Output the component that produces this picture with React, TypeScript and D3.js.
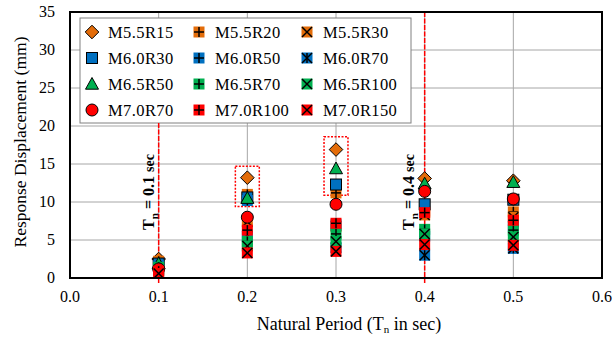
import React from "react";
import * as d3 from "d3";

const periods = [0.1, 0.2, 0.3, 0.4, 0.5];
const seriesNames = [
  "M5.5R15", "M5.5R20", "M5.5R30",
  "M6.0R30", "M6.0R50", "M6.0R70",
  "M6.5R50", "M6.5R70", "M6.5R100",
  "M7.0R70", "M7.0R100", "M7.0R150",
];
const m55r15 = [2.5, 13.2, 16.9, 13.1, 12.8];
const m55r20 = [2.2, 11.0, 11.2, 8.8, 8.7];
const m55r30 = [1.8, 7.4, 6.8, 8.3, 8.0];
const m60r30 = [1.9, 10.6, 12.3, 9.7, 10.3];
const m60r50 = [1.6, 10.2, 7.0, 5.5, 6.8];
const m60r70 = [1.2, 5.5, 4.0, 3.0, 3.9];
const m65r50 = [1.9, 10.5, 14.4, 12.4, 12.6];
const m65r70 = [1.4, 4.8, 5.8, 6.4, 6.3];
const m65r100 = [1.0, 4.2, 4.8, 5.8, 5.4];
const m70r70 = [1.2, 8.0, 9.7, 11.4, 10.4];
const m70r100 = [0.9, 6.3, 7.2, 8.6, 7.6];
const m70r150 = [0.6, 3.3, 3.5, 4.4, 4.3];
const seriesValues = [m55r15, m55r20, m55r30, m60r30, m60r50, m60r70, m65r50, m65r70, m65r100, m70r70, m70r100, m70r150];

const xTicks = [0.0, 0.1, 0.2, 0.3, 0.4, 0.5, 0.6];
const yTicks = [0, 5, 10, 15, 20, 25, 30, 35];
const refLines = [0.1, 0.4];
const boxes = [
  { x: 0.2, y0: 9.4, y1: 14.7 },
  { x: 0.3, y0: 10.9, y1: 18.6 },
];

const ORANGE = "#E36C09";
const BLUE = "#0070C0";
const GREEN = "#00B050";
const RED = "#FF0000";
const colors = [ORANGE, ORANGE, ORANGE, BLUE, BLUE, BLUE, GREEN, GREEN, GREEN, RED, RED, RED];
const shapes = ["diamond", "plus", "x", "square", "plus", "star", "triangle", "plus", "x", "circle", "plus", "x"];

const W = 613, H = 339;
const L = 70, R = 602, T = 12, B = 278;
const FONT = "Liberation Serif, DejaVu Serif, serif";

function Marker({ shape, color, cx, cy }: { shape: string; color: string; cx: number; cy: number }) {
  const s = 5.5;
  const line = { stroke: "#000", strokeWidth: 1.5 };
  if (shape === "diamond") {
    const d = 6.8;
    return <polygon points={`${cx},${cy - d} ${cx + d},${cy} ${cx},${cy + d} ${cx - d},${cy}`} fill={color} stroke="#000" strokeWidth={1} />;
  }
  if (shape === "square") {
    return <rect x={cx - s} y={cy - s} width={2 * s} height={2 * s} fill={color} stroke="#000" strokeWidth={1} />;
  }
  if (shape === "triangle") {
    const d = 6.5;
    return <polygon points={`${cx},${cy - d} ${cx + d},${cy + d * 0.8} ${cx - d},${cy + d * 0.8}`} fill={color} stroke="#000" strokeWidth={1} />;
  }
  if (shape === "circle") {
    return <circle cx={cx} cy={cy} r={6} fill={color} stroke="#000" strokeWidth={1} />;
  }
  const k = s - 0.5;
  return (
    <g>
      <rect x={cx - s} y={cy - s} width={2 * s} height={2 * s} fill={color} />
      {shape === "plus" && (
        <>
          <line x1={cx - k} y1={cy} x2={cx + k} y2={cy} {...line} />
          <line x1={cx} y1={cy - k} x2={cx} y2={cy + k} {...line} />
        </>
      )}
      {(shape === "x" || shape === "star") && (
        <>
          <line x1={cx - k} y1={cy - k} x2={cx + k} y2={cy + k} {...line} />
          <line x1={cx - k} y1={cy + k} x2={cx + k} y2={cy - k} {...line} />
        </>
      )}
      {shape === "star" && <line x1={cx} y1={cy - k} x2={cx} y2={cy + k} {...line} />}
    </g>
  );
}

export default function App() {
  const x = d3.scaleLinear().domain([0, 0.6]).range([L, R]);
  const y = d3.scaleLinear().domain([0, 35]).range([B, T]);
  const legX = 80, legY = 18, legW = 331, legH = 105;
  const colMarker = [92, 199, 307];
  const colText = [108, 215, 323];
  const rowY = [32, 58, 84, 110];
  const tf = { fontFamily: FONT };

  return (
    <svg width={W} height={H} style={{ position: "absolute", left: 0, top: 0, background: "#fff", fontFamily: FONT }}>
      <rect x={0} y={0} width={W} height={H} fill="#fff" />
      {yTicks.map((t) => (
        <line key={"gy" + t} x1={L} x2={R} y1={y(t)} y2={y(t)} stroke="#a6a6a6" strokeWidth={1} />
      ))}
      {xTicks.map((t) => (
        <line key={"gx" + t} x1={x(t)} x2={x(t)} y1={T} y2={B} stroke="#a6a6a6" strokeWidth={1} />
      ))}
      <rect x={legX} y={legY} width={legW} height={legH} fill="#fff" stroke="#808080" strokeWidth={1} />
      {seriesNames.map((n, i) => {
        const col = i % 3, row = Math.floor(i / 3);
        return (
          <g key={"lg" + n}>
            <Marker shape={shapes[i]} color={colors[i]} cx={colMarker[col]} cy={rowY[row]} />
            <text x={colText[col]} y={rowY[row] + 5.5} fontSize={16.5} letterSpacing={0.4} fill="#000" style={tf}>{n}</text>
          </g>
        );
      })}
      {refLines.map((r) => (
        <line key={"rl" + r} x1={x(r)} x2={x(r)} y1={r === 0.1 ? legY + legH : T} y2={B + 5} stroke={RED} strokeWidth={1.5} strokeDasharray="5,1.5" />
      ))}
      {refLines.map((r) => (
        <text key={"rt" + r} transform={`translate(${x(r) - (r === 0.1 ? 5 : 11)},192) rotate(-90)`} textAnchor="middle" fontSize={16} fontWeight="bold" fill="#000" style={tf}>
          <tspan>T</tspan>
          <tspan fontSize={11} dy={4}>n</tspan>
          <tspan dy={-4}>{` = ${r.toFixed(1)} `}</tspan>
          <tspan fontSize={14}>sec</tspan>
        </text>
      ))}
      {boxes.map((b, i) => (
        <rect key={"bx" + i} x={x(b.x - 0.0135)} y={y(b.y1)} width={x(b.x + 0.0135) - x(b.x - 0.0135)} height={y(b.y0) - y(b.y1)} fill="none" stroke={RED} strokeWidth={1.5} strokeDasharray="2,1.5" />
      ))}
      {seriesValues.map((vals, i) => (
        <g key={"s" + i}>
          {vals.map((v, j) => (
            <Marker key={j} shape={shapes[i]} color={colors[i]} cx={x(periods[j])} cy={y(v)} />
          ))}
        </g>
      ))}
      <rect x={L} y={T} width={R - L} height={B - T} fill="none" stroke="#000" strokeWidth={2} />
      {yTicks.map((t) => (
        <text key={"yl" + t} x={55} y={y(t) + 5} textAnchor="end" fontSize={16} fill="#000" style={tf}>{t}</text>
      ))}
      {xTicks.map((t) => (
        <text key={"xl" + t} x={x(t)} y={302} textAnchor="middle" fontSize={16} fill="#000" style={tf}>{t.toFixed(1)}</text>
      ))}
      <text x={349} y={330} textAnchor="middle" fontSize={18} fill="#000" style={tf}>
        <tspan>Natural Period (T</tspan>
        <tspan fontSize={11} dy={3}>n</tspan>
        <tspan dy={-3}> in sec)</tspan>
      </text>
      <text transform={`translate(26,142) rotate(-90)`} textAnchor="middle" fontSize={17.5} fill="#000" style={tf}>Response Displacement (mm)</text>
    </svg>
  );
}
